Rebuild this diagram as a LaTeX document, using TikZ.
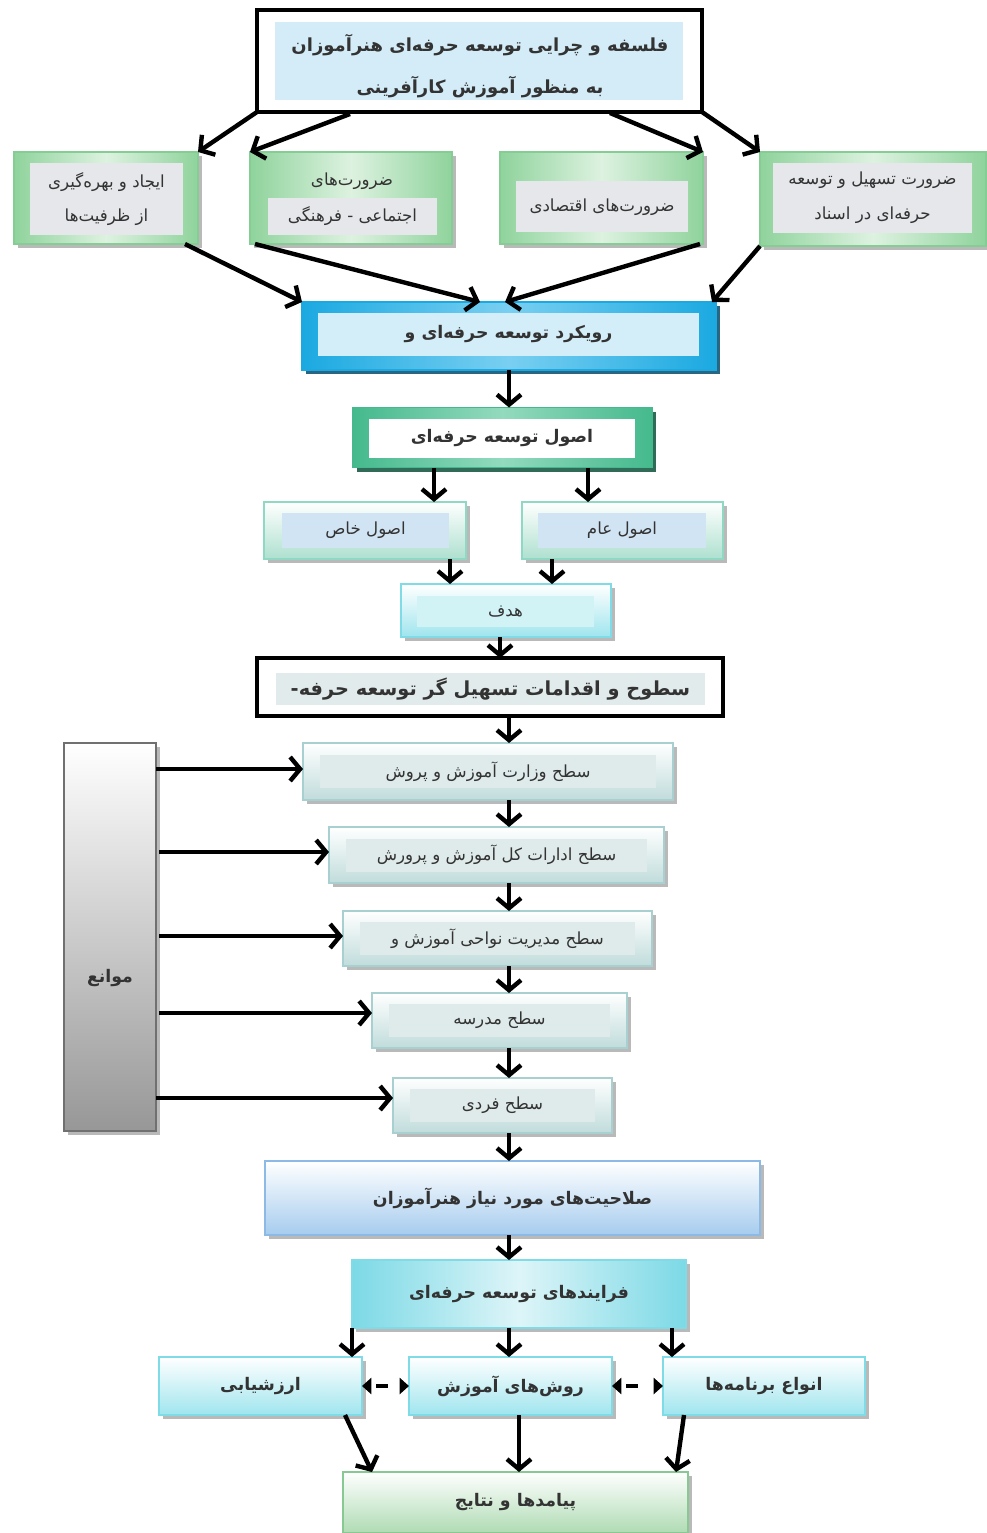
\documentclass[tikz,border=0pt]{standalone}
\usepackage{fontspec}
\usetikzlibrary{arrows.meta,shadows,calc}
\TeXXeTstate=1
\newfontfamily\fa[Script=Arabic]{DejaVu Sans}
\definecolor{tbblue}{HTML}{D3ECF7}
\definecolor{grA}{HTML}{8FD39C}
\definecolor{grB}{HTML}{DDF2E0}
\definecolor{grBorder}{HTML}{86CC95}
\definecolor{pgray}{HTML}{E5E7EA}
\definecolor{rbE}{HTML}{1BA9E1}
\definecolor{rbM}{HTML}{79CFF1}
\definecolor{rbIn}{HTML}{D3EEF9}
\definecolor{rbSh}{HTML}{2A6681}
\definecolor{ogE}{HTML}{45B98D}
\definecolor{ogM}{HTML}{93DABE}
\definecolor{ogSh}{HTML}{2F6B56}
\definecolor{mint}{HTML}{AEE0CF}
\definecolor{mintB}{HTML}{8FD8C3}
\definecolor{pblue}{HTML}{D1E4F4}
\definecolor{cyB}{HTML}{9FE5EE}
\definecolor{cyBorder}{HTML}{7FDCE6}
\definecolor{cyIn}{HTML}{D2F3F6}
\definecolor{slIn}{HTML}{E1EBEB}
\definecolor{lvB}{HTML}{C0DCDB}
\definecolor{lvBorder}{HTML}{A8D0D0}
\definecolor{lvIn}{HTML}{DFEBEA}
\definecolor{mwB}{HTML}{979797}
\definecolor{mwBorder}{HTML}{707070}
\definecolor{slB}{HTML}{A6CCEE}
\definecolor{slBorder}{HTML}{8CBAE4}
\definecolor{frE}{HTML}{7CD9E6}
\definecolor{frM}{HTML}{DDF5F8}
\definecolor{pyB}{HTML}{AFDBB3}
\definecolor{pyBorder}{HTML}{88C892}
\definecolor{ink}{HTML}{333333}
\tikzset{
  sz/.style 2 args={minimum width=#1*0.75pt, minimum height=#2*0.75pt},
  box/.style={rectangle, inner sep=0pt, outer sep=0pt, line width=1.2pt, text=ink, align=center},
  shd/.style={general shadow={fill=gray!55, shadow xshift=3pt, shadow yshift=-3pt}},
  panel/.style={rectangle, inner sep=0pt, outer sep=0pt, text=ink, align=center},
  reg/.style={font=\fa\fontsize{12.5}{26}\selectfont},
  bld/.style={font=\fa\bfseries\fontsize{13}{30}\selectfont},
  greenbox/.style={box, shd, draw=grBorder, left color=grA, right color=grA, middle color=grB},
  conn/.style={line width=3.3pt, draw=black, -{Straight Barb[length=7.5pt,width=18pt]}},
  dconn/.style={line width=2.5pt, draw=black, dash pattern=on 0pt off 4pt on 9pt off 40pt,
     {Triangle[length=7pt,width=12pt]}-{Triangle[length=7pt,width=12pt]}}
}
\begin{document}
\begin{tikzpicture}[x=0.75pt,y=-0.75pt]
\useasboundingbox[fill=white] (0,0) rectangle (986,1533);

% top
\node[box, sz={445}{102}, draw=black, line width=3pt, fill=white] (t) at (479.5,61) {};
\node[panel, sz={408}{78}, fill=tbblue] (tP) at (479,61) {};
\node[panel, font=\fa\bfseries\fontsize{13.5}{32}\selectfont] (tT) at (480,66)
  {\beginR فلسفه و چرایی توسعه حرفه‌ای هنرآموزان\endR\\\beginR به منظور آموزش کارآفرینی\endR};

% four boxes
\node[greenbox, sz={184}{92}] (a) at (106,198) {};
\node[panel, sz={153}{72}, fill=pgray, reg] (aT) at (106.5,199)
  {\beginR ایجاد و بهره‌گیری\endR\\\beginR از ظرفیت‌ها\endR};
\node[greenbox, sz={202}{92}] (b) at (351,198) {};
\node[panel, reg] (bT1) at (352,181) {\beginR ضرورت‌های\endR};
\node[panel, sz={169}{37}, fill=pgray, reg] (bT) at (352.5,216.5) {\beginR اجتماعی - فرهنگی\endR};
\node[greenbox, sz={203}{92}] (c) at (601.5,198) {};
\node[panel, sz={172}{51}, fill=pgray, reg] (cT) at (602,207) {\beginR ضرورت‌های اقتصادی\endR};
\node[greenbox, sz={226}{94}] (d) at (873,199) {};
\node[panel, sz={199}{70}, fill=pgray, reg] (dT) at (872.5,198)
  {\beginR ضرورت تسهیل و توسعه\endR\\\beginR حرفه‌ای در اسناد\endR};

% rowykard
\node[box, sz={414}{68}, draw=rbE, left color=rbE, right color=rbE, middle color=rbM,
  general shadow={fill=rbSh, shadow xshift=3pt, shadow yshift=-3pt}] (r) at (509,336) {};
\node[panel, sz={381}{43}, fill=rbIn, bld] (rT) at (508.5,334.5) {\beginR رویکرد توسعه حرفه‌ای و\endR};

% osool
\node[box, sz={299}{60}, draw=ogE, left color=ogE, right color=ogE, middle color=ogM,
  general shadow={fill=ogSh, shadow xshift=3pt, shadow yshift=-3pt}] (o) at (502.5,437.5) {};
\node[panel, sz={266}{39}, fill=white, bld] (oT) at (502,438.5) {\beginR اصول توسعه حرفه‌ای\endR};

% khas / aam
\node[box, shd, sz={202}{57}, draw=mintB, top color=white, bottom color=mint] (kh) at (365,530.5) {};
\node[panel, sz={167}{35}, fill=pblue, reg] (khT) at (365.5,530.5) {\beginR اصول خاص\endR};
\node[box, shd, sz={201}{57}, draw=mintB, top color=white, bottom color=mint] (am) at (622.5,530.5) {};
\node[panel, sz={168}{35}, fill=pblue, reg] (amT) at (622,530.5) {\beginR اصول عام\endR};

% hadaf
\node[box, shd, sz={210}{53}, draw=cyBorder, top color=white, bottom color=cyB] (h) at (506,610.5) {};
\node[panel, sz={177}{31}, fill=cyIn, reg] (hT) at (505.5,611.5) {\beginR هدف\endR};

% sotooh
\node[box, sz={466}{58}, draw=black, line width=3pt, fill=white] (s) at (490,687) {};
\node[panel, sz={429}{32}, fill=slIn, font=\fa\bfseries\fontsize{14.5}{30}\selectfont] (sT) at (490.5,689) {\beginR سطوح و اقدامات تسهیل گر توسعه حرفه-\endR};

% levels
\node[box, shd, sz={370}{57}, draw=lvBorder, top color=white, bottom color=lvB] (l1) at (488,771.5) {};
\node[panel, sz={336}{33}, fill=lvIn, reg] (l1T) at (488,771.5) {\beginR سطح وزارت آموزش و پروش\endR};
\node[box, shd, sz={335}{56}, draw=lvBorder, top color=white, bottom color=lvB] (l2) at (496.5,855) {};
\node[panel, sz={301}{33}, fill=lvIn, reg] (l2T) at (496.5,855) {\beginR سطح ادارات کل آموزش و پرورش\endR};
\node[box, shd, sz={309}{55}, draw=lvBorder, top color=white, bottom color=lvB] (l3) at (497.5,938.5) {};
\node[panel, sz={275}{33}, fill=lvIn, reg] (l3T) at (497.5,938.5) {\beginR سطح مدیریت نواحی آموزش و\endR};
\node[box, shd, sz={255}{55}, draw=lvBorder, top color=white, bottom color=lvB] (l4) at (499.5,1020.5) {};
\node[panel, sz={221}{33}, fill=lvIn, reg] (l4T) at (499.5,1020.5) {\beginR سطح مدرسه\endR};
\node[box, shd, sz={219}{55}, draw=lvBorder, top color=white, bottom color=lvB] (l5) at (502.5,1105.5) {};
\node[panel, sz={185}{33}, fill=lvIn, reg] (l5T) at (502.5,1105.5) {\beginR سطح فردی\endR};

% mawane
\node[box, shd, sz={92}{388}, draw=mwBorder, top color=white, bottom color=mwB] (m) at (110,937) {};
\node[panel, bld] (mT) at (110,978) {\beginR موانع\endR};

% salahiat
\node[box, shd, sz={495}{74}, draw=slBorder, top color=white, bottom color=slB, bld] (sal) at (512.5,1198)
  {\beginR صلاحیت‌های مورد نیاز هنرآموزان\endR};
% farayand
\node[box, shd, sz={334}{68}, draw=cyBorder, left color=frE, right color=frE, middle color=frM, bld] (f) at (519,1294)
  {\beginR فرایندهای توسعه حرفه‌ای\endR};
% three
\node[box, shd, sz={203}{58}, draw=cyBorder, top color=white, bottom color=cyB, bld] (e) at (260.5,1386) {\beginR ارزشیابی\endR};
\node[box, shd, sz={203}{58}, draw=cyBorder, top color=white, bottom color=cyB, bld] (rv) at (510.5,1386) {\beginR روش‌های آموزش\endR};
\node[box, shd, sz={202}{58}, draw=cyBorder, top color=white, bottom color=cyB, bld] (an) at (764,1386) {\beginR انواع برنامه‌ها\endR};
% payamad
\node[box, shd, sz={345}{61}, draw=pyBorder, top color=white, bottom color=pyB, bld] (p) at (515.5,1502.5) {\beginR پیامدها و نتایج\endR};

% arrows top
\draw[conn] (t.south west) -- (a.north east);
\draw[conn] ($(t.south west)+(93,2)$) -- (b.north west);
\draw[conn] ($(t.south west)+(353,1)$) -- (c.north east);
\draw[conn] (t.south east) -- (d.north west);
\draw[conn] ($(a.south east)+(-13,0)$) -- (r.north west);
\draw[conn] ($(b.south west)+(5,0)$) -- ($(r.north west)+(178,0)$);
\draw[conn] ($(c.south east)+(-3,0)$) -- ($(r.north west)+(203,0)$);
\draw[conn] (d.south west) -- ($(r.north east)+(-4,0)$);
% vertical chain
\draw[conn] (r.south) -- ($(o.north west)+(156,0)$);
\draw[conn] ($(o.south west)+(81,0)$) -- ($(kh.north west)+(170,0)$);
\draw[conn] ($(o.south west)+(235,0)$) -- ($(am.north west)+(66,0)$);
\draw[conn] ($(kh.south west)+(186,0)$) -- ($(h.north west)+(49,0)$);
\draw[conn] ($(am.south west)+(30,0)$) -- ($(h.north west)+(151,0)$);
\draw[conn] ($(h.south west)+(99,0)$) -- ($(s.north west)+(243,0)$);
\draw[conn] ($(s.south west)+(252,0)$) -- ($(l1.north west)+(206,0)$);
\draw[conn] ($(l1.south west)+(206,0)$) -- ($(l2.north west)+(180,0)$);
\draw[conn] ($(l2.south west)+(180,0)$) -- ($(l3.north west)+(166,0)$);
\draw[conn] ($(l3.south west)+(166,0)$) -- ($(l4.north west)+(137,0)$);
\draw[conn] ($(l4.south west)+(137,0)$) -- ($(l5.north west)+(116,0)$);
\draw[conn] ($(l5.south west)+(116,0)$) -- ($(sal.north west)+(244,0)$);
\draw[conn] ($(sal.south west)+(244,0)$) -- ($(f.north west)+(157,0)$);
\draw[conn] (f.south west) -- ($(e.north west)+(193,0)$);
\draw[conn] ($(f.south west)+(157,0)$) -- ($(rv.north west)+(100,0)$);
\draw[conn] ($(f.south west)+(320,0)$) -- ($(an.north west)+(9,0)$);
\draw[conn] ($(e.south east)+(-17,0)$) -- ($(p.north west)+(29,0)$);
\draw[conn] ($(rv.south west)+(110,0)$) -- ($(p.north west)+(176,0)$);
\draw[conn] ($(an.south west)+(21,0)$) -- ($(p.north east)+(-12,0)$);
% mawane arrows
\draw[conn] ($(m.north east)+(0,26)$) -- ($(l1.north west)+(0,26)$);
\draw[conn] ($(m.north east)+(3,109)$) -- ($(l2.north west)+(0,25)$);
\draw[conn] ($(m.north east)+(3,193)$) -- ($(l3.north west)+(0,25)$);
\draw[conn] ($(m.north east)+(3,270)$) -- ($(l4.north west)+(0,20)$);
\draw[conn] ($(m.north east)+(0,355)$) -- ($(l5.north west)+(0,20)$);
% dashed
\draw[dconn] (e.east) -- (rv.west);
\draw[dconn] (rv.east) -- (an.west);
\end{tikzpicture}
\end{document}
